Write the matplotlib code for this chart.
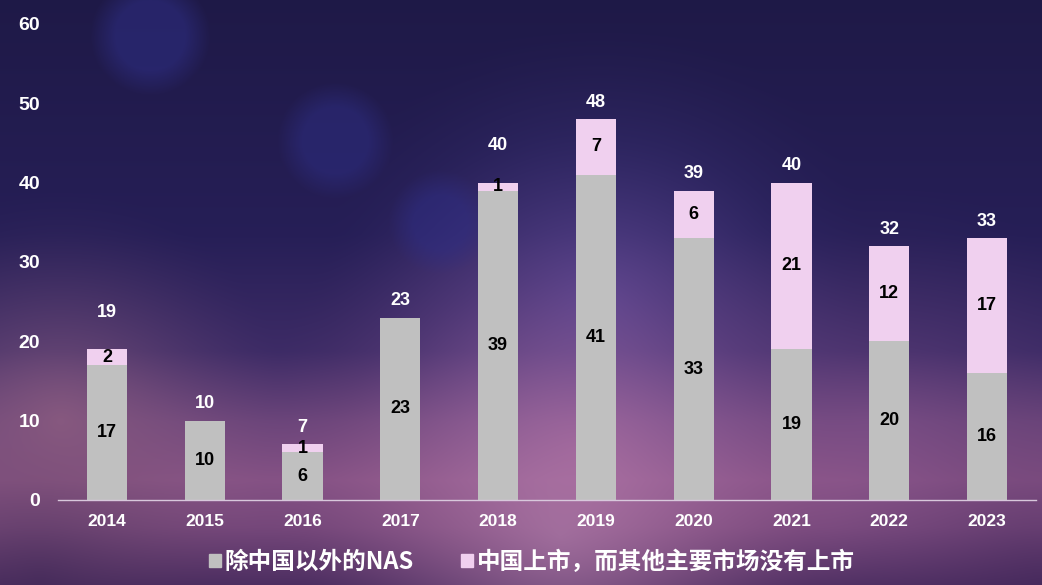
import numpy as np
import matplotlib
matplotlib.use('Agg')
import matplotlib.pyplot as plt
from matplotlib.patches import Patch

# data
years = ['2014', '2015', '2016', '2017', '2018', '2019', '2020', '2021', '2022', '2023']
nas_ex_china = [17, 10, 6, 23, 39, 41, 33, 19, 20, 16]
china_only = [2, 0, 1, 0, 1, 7, 6, 21, 12, 17]
legend_labels = ['除中国以外的NAS', '中国上市，而其他主要市场没有上市']

GRAY = '#c0c0c0'
PINK = '#f0d0ef'
FONT = ['Liberation Sans', 'DejaVu Sans']
CJK = ['Noto Sans CJK SC', 'DejaVu Sans']

W, H = 1042, 585
fig = plt.figure(figsize=(W / 100, H / 100), dpi=100)

# background: dark violet top, pinkish glow near the bottom
yy, xx = np.mgrid[0:H, 0:W]
fy = yy / H
stops = [0.0, 0.40, 0.60, 0.72, 0.82, 0.90, 1.0]
cols = np.array([
    [0.12, 0.10, 0.28],
    [0.15, 0.12, 0.34],
    [0.24, 0.17, 0.40],
    [0.42, 0.27, 0.48],
    [0.52, 0.32, 0.52],
    [0.46, 0.28, 0.48],
    [0.30, 0.18, 0.38],
])
bg = np.zeros((H, W, 3))
for c in range(3):
    bg[..., c] = np.interp(fy, stops, cols[:, c])

def blob(cx, cy, r, color, strength, soft=None):
    d = np.sqrt((xx - cx) ** 2 + (yy - cy) ** 2)
    if soft is None:
        w = np.clip(1 - d / r, 0, 1) ** 1.5 * strength
    else:
        w = np.clip((r - d) / soft, 0, 1) * strength
    for c in range(3):
        bg[..., c] = bg[..., c] * (1 - w) + color[c] * w

blob(600, 300, 280, (0.38, 0.32, 0.68), 0.55)
blob(60, 420, 230, (0.66, 0.44, 0.54), 0.55)
blob(580, 450, 320, (0.76, 0.44, 0.64), 0.5)
blob(560, 535, 260, (0.74, 0.56, 0.72), 0.45)
blob(880, 420, 240, (0.58, 0.36, 0.60), 0.3)
blob(40, 580, 220, (0.22, 0.14, 0.32), 0.5)
blob(1040, 580, 220, (0.24, 0.14, 0.34), 0.4)
blob(150, 35, 60, (0.18, 0.18, 0.52), 0.55, soft=25)
blob(335, 140, 58, (0.18, 0.18, 0.52), 0.5, soft=25)
blob(440, 222, 52, (0.18, 0.18, 0.54), 0.45, soft=25)
bg = np.clip(bg, 0, 1)

bgax = fig.add_axes([0, 0, 1, 1])
bgax.imshow(bg, aspect='auto')
bgax.axis('off')

ax = fig.add_axes([58 / W, 1 - 500 / H, 978 / W, 476 / H])
ax.patch.set_alpha(0)

x = np.arange(len(years))
bw = 0.41
ax.bar(x, nas_ex_china, bw, color=GRAY, zorder=2)
ax.bar(x, china_only, bw, bottom=nas_ex_china, color=PINK, zorder=2)

totals = [a + b for a, b in zip(nas_ex_china, china_only)]
for i in range(len(years)):
    a, b = nas_ex_china[i], china_only[i]
    ax.text(x[i], a / 2, str(a), ha='center', va='center', fontsize=13,
            fontweight='bold', color='black', family=FONT, zorder=3)
    if b > 0:
        ax.text(x[i], a + b / 2, str(b), ha='center', va='center', fontsize=13,
                fontweight='bold', color='black', family=FONT, zorder=3)
    # the 2014 and 2018 totals sit a bit higher in the original
    off = 37 if years[i] in ('2014', '2018') else 17
    ax.annotate(str(totals[i]), (x[i], totals[i]), xytext=(0, off),
                textcoords='offset pixels', ha='center', va='center',
                fontsize=13, fontweight='bold', color='white', family=FONT)

ax.set_xlim(-0.5, len(years) - 0.5)
ax.set_ylim(0, 60)
ax.set_yticks(range(0, 61, 10))
ax.set_xticks(x)
ax.set_xticklabels(years)
for s in ['top', 'right', 'left']:
    ax.spines[s].set_visible(False)
ax.spines['bottom'].set_color('#d8c8dc')
ax.spines['bottom'].set_linewidth(1.0)
ax.tick_params(axis='both', length=0, colors='white')
ax.tick_params(axis='y', pad=13)
ax.tick_params(axis='x', pad=10)
for t in ax.get_yticklabels():
    t.set_fontsize(14)
    t.set_fontweight('bold')
    t.set_family(FONT)
for t in ax.get_xticklabels():
    t.set_fontsize(12.5)
    t.set_fontweight('bold')
    t.set_family(FONT)

handles = [Patch(color=GRAY), Patch(color=PINK)]
leg = fig.legend(handles, legend_labels, loc='center', bbox_to_anchor=(532 / W, 1 - 562 / H),
                 ncol=2, frameon=False, handlelength=0.5, handleheight=0.5,
                 handletextpad=0.15, columnspacing=2.0,
                 prop={'family': CJK, 'size': 17, 'weight': 'black'})
for t in leg.get_texts():
    t.set_color('white')

fig.savefig('out.png', dpi=100)
